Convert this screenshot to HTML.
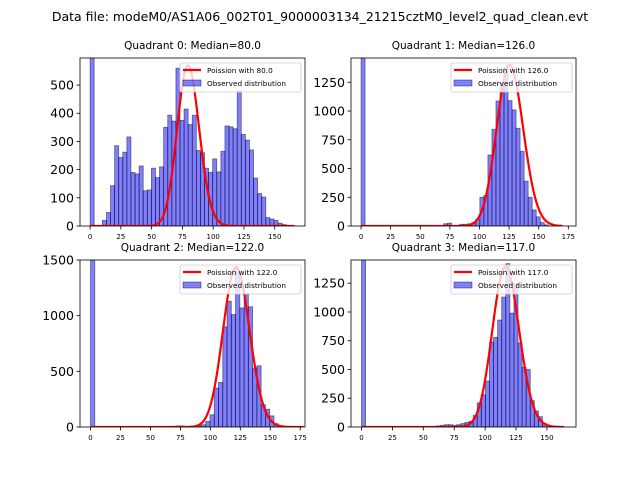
<!DOCTYPE html>
<html><head><meta charset="utf-8"><style>
body{margin:0;background:#fff;}
svg{display:block;font-family:"DejaVu Sans","Liberation Sans",sans-serif;}
</style></head><body>
<svg id="fig" width="640" height="480" viewBox="0 0 640 480" xmlns="http://www.w3.org/2000/svg">
<rect width="640" height="480" fill="#fff"/>
<text x="320" y="21" font-size="12.5" text-anchor="middle">Data file: modeM0/AS1A06_002T01_9000003134_21215cztM0_level2_quad_clean.evt</text>
</svg>
<script>
// ---- data ----
const quadNames = ["Quadrant 0: Median=80.0","Quadrant 1: Median=126.0","Quadrant 2: Median=122.0","Quadrant 3: Median=117.0"];
const medians = [80.0, 126.0, 122.0, 117.0];
const curveNorm = [12780, 39390, 39790, 37800];
const curveMax = [166, 170, 178, 164];
const zeroBinCounts = [2000, 3000, 3000, 3000];
const binWidths = [3.32, 3.4, 3.56, 3.3];
const binStarts = [9.96, 69.7, 71.2, 60.6];
const q0Counts = [20,48,143,285,243,262,316,190,185,213,125,128,205,172,210,350,393,372,560,375,415,360,393,268,260,205,190,238,192,265,355,352,345,480,325,305,270,170,115,103,30,25,20,10,5];
const q1Counts = [20,25,5,0,15,15,20,30,60,250,265,617,841,1087,1250,1380,1090,1010,850,650,390,250,140,80,30,10];
const q2Counts = [10,10,0,0,0,10,20,50,110,350,400,900,1130,1010,1420,1070,1200,1080,530,550,200,160,100,30];
const q3Counts = [10,15,20,20,15,20,30,40,50,100,210,280,400,740,780,930,1130,1420,990,1250,730,520,500,230,140,90,30];
const allCounts = [q0Counts,q1Counts,q2Counts,q3Counts];
const xDomains = [[-8.2,174.6],[-8.5,181.5],[-8.8,179],[-8.5,173.5]];
const yDomains = [[0,596],[0,1461],[0,1500],[0,1452]];
const xTickVals = [[0,25,50,75,100,125,150],[0,25,50,75,100,125,150,175],[0,25,50,75,100,125,150,175],[0,25,50,75,100,125,150]];
const yTickVals = [[0,100,200,300,400,500],[0,250,500,750,1000,1250],[0,500,1000,1500],[0,250,500,750,1000,1250]];
// ---- layout ----
const boxes = [[80,58,305,226],[351,58,576,226],[80,260,305,427],[351,260,576,427]];
const NS="http://www.w3.org/2000/svg";
const svg=document.getElementById('fig');
function mk(tag,attrs,parent){const e=document.createElementNS(NS,tag);for(const k in attrs)e.setAttribute(k,attrs[k]);(parent||svg).appendChild(e);return e;}
function lgamma(n){let s=0;for(let i=2;i<=n;i++)s+=Math.log(i);return s;}
function pois(k,m){return Math.exp(k*Math.log(m)-m-lgamma(k));}
for(let q=0;q<4;q++){
  const [L,T,R,B]=boxes[q];
  const [x0,x1]=xDomains[q],[y0,y1]=yDomains[q];
  const sx=v=>L+(v-x0)/(x1-x0)*(R-L);
  const sy=v=>B-(v-y0)/(y1-y0)*(B-T);
  const g=mk('g',{});
  
  
  const clipId='c'+q;
  const cp=mk('clipPath',{id:clipId},g);mk('rect',{x:L,y:T,width:R-L,height:B-T},cp);
  const plot=mk('g',{'clip-path':'url(#'+clipId+')'},g);
  const w=binWidths[q];
  const zb=mk('rect',{x:sx(0),y:sy(zeroBinCounts[q]),width:sx(w)-sx(0),height:sy(0)-sy(zeroBinCounts[q]),fill:'rgba(0,0,255,0.5)',stroke:'rgba(0,0,0,0.5)','stroke-width':0.8},plot);
  
  
  allCounts[q].forEach((c,i)=>{
    if(c<=0)return;
    const a=binStarts[q]+i*w;
    const r=mk('rect',{x:sx(a),y:sy(c),width:sx(a+w)-sx(a),height:sy(0)-sy(c),fill:'rgba(0,0,255,0.5)',stroke:'rgba(0,0,0,0.5)','stroke-width':0.8},plot);
    
    
  });
  let pts=[];
  for(let k=0;k<=curveMax[q];k++)pts.push(sx(k).toFixed(2)+','+sy(pois(k,medians[q])*curveNorm[q]).toFixed(2));
  const pl=mk('polyline',{points:pts.join(' '),fill:'none',stroke:'#ff0000','stroke-width':2.2,'stroke-linejoin':'round'},plot);
  
  
  mk('rect',{x:L,y:T,width:R-L,height:B-T,fill:'none',stroke:'#000','stroke-width':0.8},g);
  xTickVals[q].forEach(v=>{
    mk('line',{x1:sx(v),x2:sx(v),y1:B,y2:B+3.5,stroke:'#000','stroke-width':0.8},g);
    const t=mk('text',{x:sx(v),y:B+13,'font-size':7,'text-anchor':'middle'},g);t.textContent=v;
    
    
  });
  yTickVals[q].forEach(v=>{
    mk('line',{x1:L-3.5,x2:L,y1:sy(v),y2:sy(v),stroke:'#000','stroke-width':0.8},g);
    const t=mk('text',{x:L-6,y:sy(v)+4.5,'font-size':12.5,'text-anchor':'end'},g);t.textContent=v;
    
    
  });
  const tt=mk('text',{x:(L+R)/2,y:T-9,'font-size':10.5,'text-anchor':'middle'},g);tt.textContent=quadNames[q];
  
  
  // legend
  const lg=mk('g',{},g);
  
  
  const lx=R-125,ly=T+5;
  mk('rect',{x:lx,y:ly,width:121,height:29,rx:2,fill:'rgba(255,255,255,0.8)',stroke:'#ccc','stroke-width':0.8},lg);
  mk('line',{x1:lx+3,x2:lx+21,y1:ly+7,y2:ly+7,stroke:'#ff0000','stroke-width':2.2},lg);
  const t1=mk('text',{x:lx+27,y:ly+10,'font-size':7.3},lg);t1.textContent='Poission with '+medians[q].toFixed(1);
  
  
  mk('rect',{x:lx+3,y:ly+17,width:18,height:6,fill:'rgba(0,0,255,0.5)',stroke:'rgba(0,0,0,0.5)','stroke-width':0.8},lg);
  const t2=mk('text',{x:lx+27,y:ly+23,'font-size':7.3},lg);t2.textContent='Observed distribution';
  
  
}
</script>
</body></html>
